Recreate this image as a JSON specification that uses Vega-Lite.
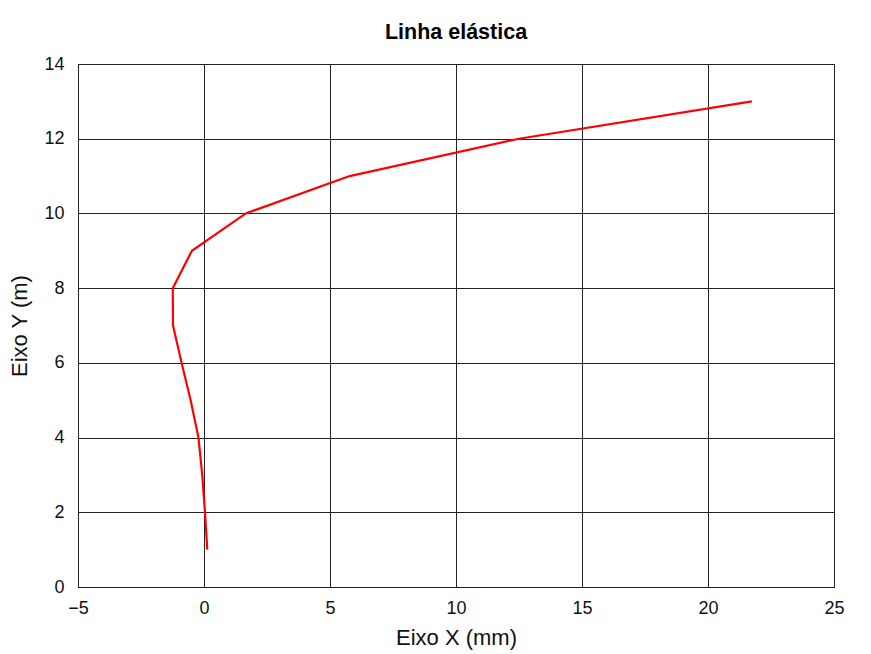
{
  "$schema": "https://vega.github.io/schema/vega-lite/v6.json",
  "autosize": {"type": "none"},
  "padding": {"left": 78, "top": 64, "right": 37, "bottom": 67},
  "width": 756,
  "height": 523,
  "background": "white",
  "title": {"text": "Linha elástica", "font": "Liberation Sans", "fontSize": 21.5, "fontWeight": "bold", "color": "black", "anchor": "middle", "frame": "group", "offset": 12},
  "config": {
    "view": {"stroke": "black", "strokeWidth": 1},
    "axis": {
      "labelFont": "Liberation Sans", "labelFontSize": 18, "labelColor": "#111", "labelFlush": false, "labelOverlap": false,
      "titleFont": "Liberation Sans", "titleFontSize": 22, "titleFontWeight": "normal", "titleColor": "#111",
      "gridColor": "#222", "gridOpacity": 1, "gridWidth": 1,
      "domain": false, "ticks": false
    }
  },
  "data": {"values": [
    {"x": 0.13, "y": 1},
    {"x": 0.04, "y": 2},
    {"x": -0.07, "y": 3},
    {"x": -0.22, "y": 4},
    {"x": -0.53, "y": 5},
    {"x": -0.89, "y": 6},
    {"x": -1.23, "y": 7},
    {"x": -1.24, "y": 8},
    {"x": -0.48, "y": 9},
    {"x": 1.66, "y": 10},
    {"x": 5.78, "y": 11},
    {"x": 12.5, "y": 12},
    {"x": 21.74, "y": 13}
  ]},
  "mark": {"type": "line", "color": "#ff0000", "strokeWidth": 2.2, "clip": true},
  "encoding": {
    "x": {"field": "x", "type": "quantitative", "scale": {"domain": [-5, 25], "nice": false, "zero": false},
      "axis": {"values": [-5, 0, 5, 10, 15, 20, 25], "title": "Eixo X (mm)", "labelPadding": 12, "titlePadding": 10}},
    "y": {"field": "y", "type": "quantitative", "scale": {"domain": [0, 14], "nice": false, "zero": false},
      "axis": {"values": [0, 2, 4, 6, 8, 10, 12, 14], "title": "Eixo Y (m)", "labelPadding": 14, "titlePadding": 12}},
    "order": {"field": "y", "type": "quantitative"}
  }
}
